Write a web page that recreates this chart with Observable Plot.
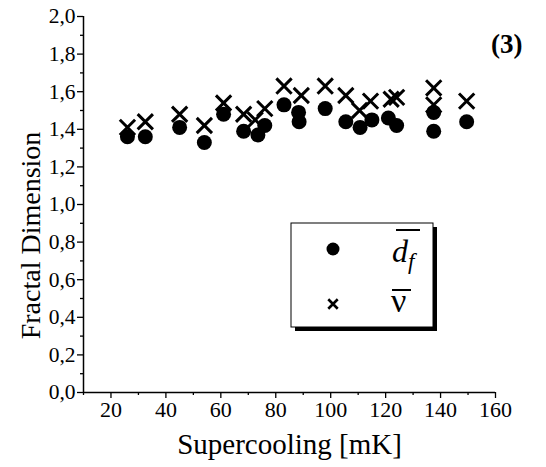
<!DOCTYPE html>
<html><head><meta charset="utf-8">
<script src="https://cdn.jsdelivr.net/npm/d3@7"></script>
<script src="https://cdn.jsdelivr.net/npm/@observablehq/plot@0.6"></script>
<style>body{margin:0;background:#fff}</style>
</head><body><div id="chart"></div>
<script>
// d_f (filled dots)
const dfX = [26, 32.5, 45, 54, 61, 68.3, 73.5, 76, 83, 88.3, 88.5, 98, 105.5, 110.7, 115, 121, 124, 137.5, 137.5, 149.5];
const dfY = [1.36, 1.36, 1.41, 1.33, 1.48, 1.39, 1.37, 1.42, 1.53, 1.49, 1.44, 1.51, 1.44, 1.41, 1.45, 1.46, 1.42, 1.49, 1.39, 1.44];
// nu (crosses)
const nuX = [26, 32.5, 45, 54, 61, 68.3, 72.5, 76, 83, 89.3, 98, 105.5, 110.5, 114.5, 122, 124, 137.5, 137.5, 149.5];
const nuY = [1.41, 1.44, 1.48, 1.42, 1.54, 1.48, 1.45, 1.51, 1.63, 1.58, 1.63, 1.58, 1.50, 1.55, 1.56, 1.57, 1.62, 1.53, 1.55];

const xTicks = [20, 40, 60, 80, 100, 120, 140, 160];
const xMinor = [10, 30, 50, 70, 90, 110, 130, 150];
const yTicks = [0, 0.2, 0.4, 0.6, 0.8, 1.0, 1.2, 1.4, 1.6, 1.8, 2.0];
const yMinor = [0.1, 0.3, 0.5, 0.7, 0.9, 1.1, 1.3, 1.5, 1.7, 1.9];
const xLabel = "Supercooling [mK]";
const yLabel = "Fractal Dimension";
const panelLabel = "(3)";
const legendDf = ["d", "f"];
const legendNu = "ν";

const dfData = dfX.map((x, i) => ({x, y: dfY[i]}));
const nuData = nuX.map((x, i) => ({x, y: nuY[i]}));
const fmt = d => d.toFixed(1).replace(".", ",");
const FONT = "'Liberation Serif', 'Times New Roman', serif";

const plot = Plot.plot({
  width: 546, height: 467,
  marginLeft: 83, marginRight: 51, marginTop: 16, marginBottom: 75,
  style: {fontFamily: FONT, background: "white", color: "black", overflow: "visible"},
  x: {domain: [10, 160]},
  y: {domain: [0, 2]},
  marks: [
    Plot.axisX({ticks: xMinor, tickSize: 3, strokeWidth: 1.3, tickFormat: () => "", label: null}),
    Plot.axisX({ticks: xTicks, tickSize: 6, strokeWidth: 1.3, tickPadding: 3, fontSize: 22, tickFormat: d => d, label: null}),
    Plot.axisY({ticks: yMinor, tickSize: 3, strokeWidth: 1.3, tickFormat: () => "", label: null}),
    Plot.axisY({ticks: yTicks, tickSize: 6, strokeWidth: 1.3, tickPadding: 2, fontSize: 21.5, tickFormat: fmt, label: null}),
    Plot.ruleY([0], {x1: 10, x2: 160, stroke: "black", strokeWidth: 1.5}),
    Plot.ruleX([10], {y1: 0, y2: 2, stroke: "black", strokeWidth: 1.5}),
    Plot.dot(nuData, {x: "x", y: "y", symbol: "times", r: 7, stroke: "black", strokeWidth: 3}),
    Plot.dot(dfData, {x: "x", y: "y", r: 7.5, fill: "black", stroke: null}),
    Plot.text([xLabel], {frameAnchor: "bottom", dy: 52, lineAnchor: "middle", fontSize: 29}),
    Plot.text([yLabel], {frameAnchor: "left", rotate: -90, textAnchor: "middle", dx: -52, dy: 31, lineAnchor: "middle", fontSize: 28}),
    Plot.text([panelLabel], {frameAnchor: "top-right", textAnchor: "end", lineAnchor: "middle", dx: 27, dy: 28, fontSize: 27, fontWeight: "bold"})
  ]
});
document.getElementById("chart").appendChild(plot);

// Legend box
const svg = d3.select(plot);
const g = svg.append("g").attr("text-anchor", "start");
const bx = 291, by = 223, bw = 142, bh = 104;
g.append("rect").attr("x", bx + 4).attr("y", by + 4).attr("width", bw).attr("height", bh).attr("fill", "black");
g.append("rect").attr("x", bx).attr("y", by).attr("width", bw).attr("height", bh).attr("fill", "white").attr("stroke", "black").attr("stroke-width", 1);
g.append("circle").attr("cx", 333).attr("cy", 249).attr("r", 6.5).attr("fill", "black");
g.append("path").attr("d", d3.symbol(d3.symbolTimes, 60)()).attr("transform", "translate(333,304)").attr("fill", "none").attr("stroke", "black").attr("stroke-width", 2.6);
const t1 = g.append("text").attr("text-anchor", "start").attr("x", 392).attr("y", 262).attr("font-family", FONT).attr("font-size", 32).attr("font-style", "italic");
t1.append("tspan").text(legendDf[0]);
t1.append("tspan").attr("dy", 7).attr("font-size", 23).text(legendDf[1]);
g.append("line").attr("x1", 396).attr("x2", 420).attr("y1", 230).attr("y2", 230).attr("stroke", "black").attr("stroke-width", 2);
g.append("text").attr("text-anchor", "start").attr("x", 391).attr("y", 312).attr("font-family", FONT).attr("font-size", 34).text(legendNu);
g.append("line").attr("x1", 392).attr("x2", 411).attr("y1", 290).attr("y2", 290).attr("stroke", "black").attr("stroke-width", 2);
</script>
</body></html>
